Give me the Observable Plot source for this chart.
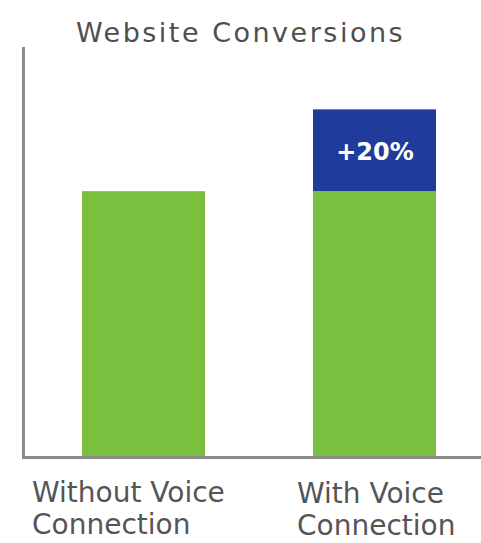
<!DOCTYPE html>
<html>
<head>
<meta charset="utf-8">
<script src="https://cdn.jsdelivr.net/npm/d3@7"></script>
<script src="https://cdn.jsdelivr.net/npm/@observablehq/plot@0.6"></script>
<style>
  html, body { margin: 0; padding: 0; background: #ffffff; }
  #chart { width: 481px; height: 543px; overflow: hidden; }
  .title {
    width: 481px; height: 27px; padding-top: 19px;
    font-family: "DejaVu Sans", sans-serif; font-size: 27px; line-height: 27px;
    letter-spacing: 2.5px; color: #4e4e4e; text-align: center; white-space: nowrap;
  }
  g[aria-label="lift label"] text { letter-spacing: 3.2px; }
  g[aria-label="category label"] text { letter-spacing: 1.2px; }
  svg { display: block; }
</style>
</head>
<body>
<div id="chart">
  <div class="title">Website Conversions</div>
</div>
<script>
const titleText = "Website Conversions";
const categories = ["Without Voice\nConnection", "With Voice\nConnection"];
const baseValues = [65, 65];
const liftValues = [0, 20];
const liftLabels = ["", "+20%"];

const rows = [];
categories.forEach((c, i) => {
  rows.push({category: c, series: "base", value: baseValues[i]});
  if (liftValues[i] > 0) rows.push({category: c, series: "lift", value: liftValues[i]});
});
const labelRows = categories
  .map((c, i) => ({category: c, label: liftLabels[i], mid: baseValues[i] + liftValues[i] / 2}))
  .filter(d => d.label);

const axisColor = "#8c8c8c";
const labelColor = "#555555";

const chart = Plot.plot({
  width: 481,
  height: 497,
  marginTop: 2,
  marginBottom: 86,
  marginLeft: 23,
  marginRight: 0,
  style: {fontFamily: "DejaVu Sans, sans-serif", background: "#ffffff", overflow: "visible"},
  x: {domain: categories, range: [81, 437], paddingInner: 0.4655, paddingOuter: 0, axis: null},
  y: {domain: [0, 100], axis: null},
  color: {domain: ["base", "lift"], range: ["#7abf3e", "#1f3c9c"]},
  marks: [
    Plot.barY(rows, {x: "category", y: "value", fill: "series"}),
    Plot.text(labelRows, {
      x: "category", y: "mid", text: "label", fill: "white",
      fontWeight: "bold", fontSize: 24, dy: 2, ariaLabel: "lift label"
    }),
    Plot.ruleY([0], {stroke: axisColor, strokeWidth: 3}),
    Plot.frame({anchor: "left", stroke: axisColor, strokeWidth: 3}),
    Plot.text([categories[0]], {
      x: d => d, y: [0], text: d => d, fill: labelColor, fontSize: 28,
      textAnchor: "start", lineAnchor: "top", lineHeight: 1.16, dx: -112, dy: 21,
      ariaLabel: "category label"
    }),
    Plot.text([categories[1]], {
      x: d => d, y: [0], text: d => d, fill: labelColor, fontSize: 28,
      textAnchor: "start", lineAnchor: "top", lineHeight: 1.16, dx: -78, dy: 22,
      ariaLabel: "category label"
    })
  ]
});
document.getElementById("chart").appendChild(chart);
</script>
</body>
</html>
